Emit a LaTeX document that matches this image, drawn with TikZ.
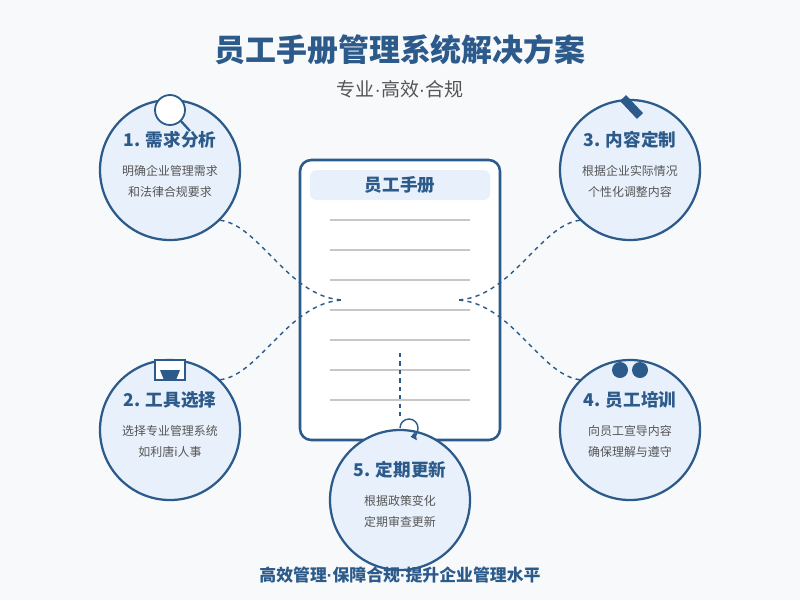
\documentclass[tikz,border=0pt]{standalone}
\usepackage{fontspec}
\setmainfont{Noto Sans CJK SC}
\newfontfamily\latin{Liberation Sans}
\usetikzlibrary{calc,arrows.meta}
\definecolor{navy}{HTML}{2C5A8A}
\definecolor{pale}{HTML}{E8F1FB}
\definecolor{paper}{HTML}{F7F9FB}
\definecolor{txtgray}{HTML}{555555}
\newcommand{\mdot}{{\latin ·}}
\tikzset{
  stepcircle/.style={circle, draw=navy, line width=1.6pt, fill=pale, minimum size=140*0.025cm, inner sep=0pt},
  steptitle/.style={text=navy, font=\fontsize{12.5}{14}\selectfont\bfseries},
  stepbody/.style={text=txtgray, font=\fontsize{8.5}{15}\selectfont, align=center},
  link/.style={draw=navy, line width=1pt, dashed}
}
\begin{document}
\begin{tikzpicture}[x=0.025cm,y=-0.025cm]
  % Background
  \fill[paper] (0,0) rectangle (800,600);
  \useasboundingbox (0,0) rectangle (800,600);
  % Titles
  \node[text=navy, font=\fontsize{22}{26}\selectfont\bfseries] (title) at (400,50) {员工手册管理系统解决方案};
  \node[text=txtgray, font=\fontsize{13.5}{16}\selectfont] (subtitle) at (400,89) {专业\mdot 高效\mdot 合规};
  % Handbook
  \draw[navy, line width=1.8pt, fill=white, rounded corners=8] (300,160) rectangle (500,440);
  \fill[pale, rounded corners=4] (310,170) rectangle (490,200);
  \node[steptitle] (book) at (400,185) {员工手册};
  \foreach \y in {220,250,...,400}
    \draw[black!22, line width=1pt] (330,\y) -- (470,\y);
  \coordinate (hl) at (345,300);
  \coordinate (hr) at (455,300);
  \coordinate (hb) at (400,353);
  % Steps
  \node[stepcircle] (s1) at (170,170) {};
  \node[stepcircle] (s3) at (630,170) {};
  \node[stepcircle] (s2) at (170,430) {};
  \node[stepcircle] (s4) at (630,430) {};
  \node[stepcircle] (s5) at (400,500) {};
  \node[steptitle] (t1) at (170,140) {1. 需求分析};
  \node[stepbody] (b1) at (170,181) {明确企业管理需求\\和法律合规要求};
  \node[steptitle] (t3) at (630,140) {3. 内容定制};
  \node[stepbody] (b3) at (630,181) {根据企业实际情况\\个性化调整内容};
  \node[steptitle] (t2) at (170,400) {2. 工具选择};
  \node[stepbody] (b2) at (170,441) {选择专业管理系统\\如利唐i人事};
  \node[steptitle] (t4) at (630,400) {4. 员工培训};
  \node[stepbody] (b4) at (630,441) {向员工宣导内容\\确保理解与遵守};
  \node[steptitle] (t5) at (400,470) {5. 定期更新};
  \node[stepbody] (b5) at (400,511) {根据政策变化\\定期审查更新};
  % Icons
  \draw[navy, line width=1.6pt] (180,120) -- (190,131);
  \draw[navy, line width=1.3pt, fill=white] (170,110) circle (15);
  \draw[navy, line width=6pt] (623,98) -- (640,116);
  \draw[navy, line width=1.3pt, fill=white] (155,360) rectangle (185,380);
  \fill[navy] (160,370) -- (180,370) -- (176,380) -- (164,380) -- cycle;
  \fill[navy] (620,370) circle (8) (640,370) circle (8);
  % Connectors
  \draw[link] (s1.-45) .. controls (260,225) and (290,300) .. (hl);
  \draw[link] (s2.45) .. controls (260,375) and (290,300) .. (hl);
  \draw[link] (s3.-135) .. controls (540,225) and (510,300) .. (hr);
  \draw[link] (s4.135) .. controls (540,375) and (510,300) .. (hr);
  \draw[link] (hb) -- (400,420);
  \draw[navy, line width=1pt, -{Triangle[length=4pt,width=6pt]}] (400,428) arc[start angle=180, end angle=440, radius=9];
  % Footer
  \node[text=navy, font=\fontsize{12}{14}\selectfont\bfseries] (footer) at (400,575) {高效管理\mdot 保障合规\mdot 提升企业管理水平};
\end{tikzpicture}
\end{document}
